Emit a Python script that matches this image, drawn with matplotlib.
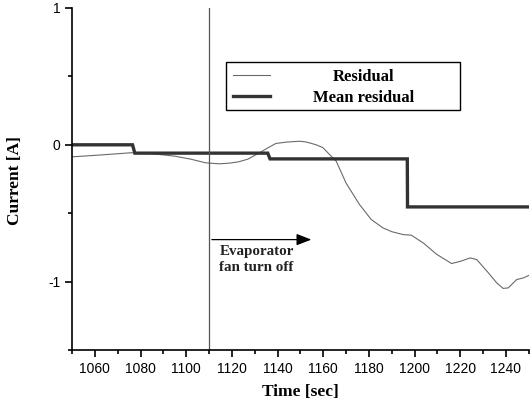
import matplotlib
matplotlib.use("Agg")
import matplotlib.pyplot as plt
from matplotlib.lines import Line2D
from matplotlib.patches import Rectangle
from matplotlib.ticker import MultipleLocator, FixedLocator

plt.rcParams["axes.unicode_minus"] = False

# Data
res_t = [1050, 1062, 1076, 1085, 1095, 1102, 1108.6, 1114.4, 1119, 1123, 1127, 1132, 1136, 1139.3,
         1144, 1149.6, 1152, 1154, 1156.9, 1159.8, 1162.7, 1165.7, 1170, 1175.9, 1181,
         1186.1, 1190, 1194.9, 1198.6, 1204, 1209.6, 1216.2, 1220, 1224.3, 1227.2, 1232,
         1236, 1238.8, 1241, 1244.7, 1247.6, 1250]
res_v = [-0.088, -0.075, -0.058, -0.065, -0.083, -0.105, -0.132, -0.139, -0.134, -0.124, -0.105,
         -0.059, -0.02, 0.01, 0.02, 0.026, 0.022, 0.014, 0.0, -0.02, -0.07, -0.12, -0.28, -0.437,
         -0.546, -0.607, -0.635, -0.656, -0.661, -0.72, -0.80, -0.868, -0.852, -0.827, -0.839,
         -0.93, -1.01, -1.05, -1.046, -0.985, -0.973, -0.955]

mean_t = [1050, 1076.5, 1077.5, 1135.7, 1136.7, 1196.8, 1196.9, 1250]
mean_v = [0.0, 0.0, -0.061, -0.061, -0.103, -0.103, -0.454, -0.454]

event_t = 1110
arrow_end_t = 1156
arrow_y = -0.693
xticks = [1060, 1080, 1100, 1120, 1140, 1160, 1180, 1200, 1220, 1240]
yticks = [-1, 0, 1]

serif = "Liberation Serif"
sans = "Liberation Sans"

fig = plt.figure(figsize=(5.32, 4.07), dpi=100)
ax = fig.add_axes([72/532, 1-350/407, (528.8-72)/532, (350-8)/407])

ax.plot(res_t, res_v, color="#6a6a6a", lw=0.8, label="Residual")
ax.plot(mean_t, mean_v, color="#333333", lw=2.4, solid_joinstyle="miter", label="Mean residual")

ax.axvline(event_t, color="#555555", lw=0.9)
ax.annotate("", xy=(arrow_end_t, arrow_y), xytext=(event_t, arrow_y),
            arrowprops=dict(arrowstyle="-|>,head_length=0.9,head_width=0.35", color="black", lw=0.9))
ax.text(event_t + 4.5, arrow_y - 0.04, "Evaporator\nfan turn off", family=serif,
        fontsize=10.8, fontweight="bold", color="#222222", va="top", ha="left",
        multialignment="left", linespacing=1.3)

ax.set_xlim(1050, 1250)
ax.set_ylim(-1.5, 1)
ax.xaxis.set_major_locator(FixedLocator(xticks))
ax.xaxis.set_minor_locator(MultipleLocator(10))
ax.yaxis.set_major_locator(FixedLocator(yticks))
ax.yaxis.set_minor_locator(FixedLocator([-1.5, -0.5, 0.5]))
for s in ["top", "right"]:
    ax.spines[s].set_visible(False)
for s in ["left", "bottom"]:
    ax.spines[s].set_linewidth(1.2)
ax.tick_params(which="major", direction="out", length=5, width=1.2, labelsize=10)
ax.tick_params(which="minor", direction="out", length=3, width=1.2)
for lab in ax.get_xticklabels() + ax.get_yticklabels():
    lab.set_family(sans)

ax.set_xlabel("Time [sec]", family=serif, fontweight="bold", fontsize=12.5, labelpad=6)
ax.set_ylabel("Current [A]", family=serif, fontweight="bold", fontsize=12.5)
ax.yaxis.set_label_coords((23 - 72) / (528.8 - 72), (350 - 181) / (350 - 8))

# Legend box (drawn in axes coordinates)
def ax_x(px):
    return (px - 72) / (528.8 - 72)

def ax_y(py):
    return (350 - py) / (350 - 8)

ax.add_patch(Rectangle((ax_x(226), ax_y(110)), ax_x(460) - ax_x(226), ax_y(62) - ax_y(110),
                       transform=ax.transAxes, facecolor="white", edgecolor="black", lw=1.0, zorder=5))
ax.add_line(Line2D([ax_x(233), ax_x(270)], [ax_y(75.3)] * 2, transform=ax.transAxes,
                   color="#6a6a6a", lw=0.8, zorder=6))
ax.add_line(Line2D([ax_x(233), ax_x(270)], [ax_y(96.3)] * 2, transform=ax.transAxes,
                   color="#333333", lw=2.4, zorder=6))
ax.text(ax_x(364), ax_y(77), "Residual", transform=ax.transAxes, family=serif,
        fontweight="bold", fontsize=12, ha="center", va="center", zorder=6)
ax.text(ax_x(364), ax_y(98), "Mean residual", transform=ax.transAxes, family=serif,
        fontweight="bold", fontsize=12, ha="center", va="center", zorder=6)

fig.savefig("out.png", dpi=100)
